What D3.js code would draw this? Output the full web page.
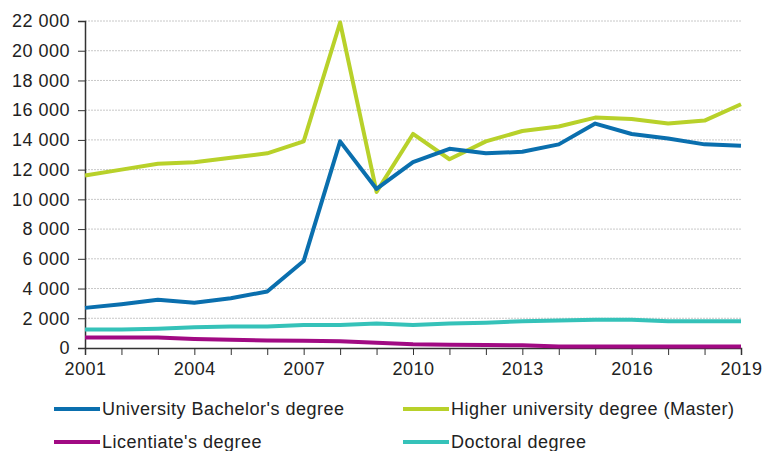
<!DOCTYPE html>
<html>
<head>
<meta charset="UTF-8">
<script src="https://d3js.org/d3.v7.min.js"></script>
<style>
  body { margin: 0; background: #fff; }
  text { font-family: "Liberation Sans", Arial, sans-serif; fill: #222; }
</style>
</head>
<body>
<div id="chart"></div>
<script>
// data
var years = d3.range(2001, 2020);
var bachelor = [2700, 2950, 3250, 3050, 3350, 3800, 5850, 13900, 10700, 12500, 13400, 13100, 13200, 13700, 15100, 14400, 14100, 13700, 13600];
var master = [11600, 12000, 12400, 12500, 12800, 13100, 13900, 21900, 10500, 14400, 12700, 13900, 14600, 14900, 15500, 15400, 15100, 15300, 16400];
var licentiate = [700, 700, 700, 600, 550, 500, 480, 450, 350, 250, 220, 200, 180, 100, 100, 100, 100, 100, 100];
var doctoral = [1250, 1250, 1300, 1400, 1450, 1450, 1550, 1550, 1650, 1550, 1650, 1700, 1800, 1850, 1900, 1900, 1800, 1800, 1800];
var yTicks = d3.range(0, 22001, 2000);
var xLabels = [2001, 2004, 2007, 2010, 2013, 2016, 2019];

var series = [
  {name: "University Bachelor's degree", values: bachelor, color: "#0a6fae"},
  {name: "Higher university degree (Master)", values: master, color: "#b8d12a"},
  {name: "Licentiate's degree", values: licentiate, color: "#a10a83"},
  {name: "Doctoral degree", values: doctoral, color: "#35c2b9"}
];

var W = 765, H = 451;
var margin = {top: 21, right: 24, bottom: 103, left: 85};
var width = W - margin.left - margin.right,
    height = H - margin.top - margin.bottom;

var svg = d3.select("#chart").append("svg")
    .attr("width", W).attr("height", H);
var g = svg.append("g")
    .attr("transform", "translate(" + margin.left + "," + margin.top + ")");

var x = d3.scaleLinear().domain([2001, 2019]).range([0, width]);
var y = d3.scaleLinear().domain([0, 22000]).range([height, 0]);

// gridlines
g.append("g").selectAll("line")
  .data(yTicks.filter(function(d) { return d > 0; }))
  .enter().append("line")
    .attr("x1", 0).attr("x2", width)
    .attr("y1", function(d) { return y(d); })
    .attr("y2", function(d) { return y(d); })
    .attr("stroke", "#c8c8c8")
    .attr("stroke-width", 1)
    .attr("stroke-dasharray", "2,1");

// y axis
var yAxis = g.append("g")
  .call(d3.axisLeft(y).tickValues(yTicks).tickSize(7).tickPadding(8)
    .tickFormat(function(d) { return d3.format(",")(d).replace(",", " "); }));
yAxis.selectAll("text").style("font-size", "18px").style("letter-spacing", "0.5px").attr("fill", "#222");
yAxis.select(".domain").attr("stroke", "#333").attr("stroke-width", 1.5);
yAxis.selectAll(".tick line").attr("stroke", "#333");

// x axis
var xAxis = g.append("g")
  .attr("transform", "translate(0," + height + ")")
  .call(d3.axisBottom(x).tickValues(years).tickSize(7).tickPadding(7)
    .tickFormat(function(d) { return xLabels.indexOf(d) >= 0 ? d : ""; }));
xAxis.selectAll("text").style("font-size", "18px").style("letter-spacing", "0.5px").attr("fill", "#222");
xAxis.select(".domain").attr("stroke", "#333").attr("stroke-width", 1.5);
xAxis.selectAll(".tick line").attr("stroke", "#333");

// lines
var line = d3.line()
  .x(function(d, i) { return x(years[i]); })
  .y(function(d) { return y(d); });

[1, 0, 3, 2].forEach(function(k) {
  var s = series[k];
  g.append("path")
    .datum(s.values)
    .attr("fill", "none")
    .attr("stroke", s.color)
    .attr("stroke-width", 4)
    .attr("stroke-linejoin", "round")
    .attr("d", line);
});

// legend
var legend = svg.selectAll(".legend")
  .data(series)
  .enter().append("g")
  .attr("class", "legend")
  .attr("transform", function(d, i) {
    return "translate(" + (i % 2 === 0 ? 54 : 403) + "," + (i < 2 ? 409 : 442) + ")";
  });
legend.append("line")
  .attr("x1", 0).attr("x2", 46)
  .attr("stroke", function(d) { return d.color; })
  .attr("stroke-width", 4);
legend.append("text")
  .attr("x", 48)
  .attr("dy", "0.36em")
  .style("font-size", "18px")
  .style("letter-spacing", "0.5px")
  .text(function(d) { return d.name; });
</script>
</body>
</html>
